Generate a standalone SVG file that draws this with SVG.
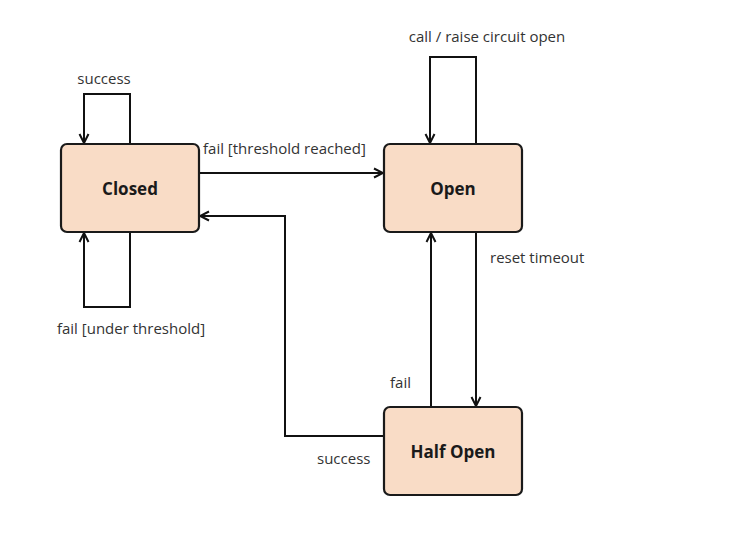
<svg xmlns="http://www.w3.org/2000/svg" width="736" height="537" viewBox="0 0 736 537">
<defs>
<style>
.node rect{fill:#f9dcc6;stroke:#1a1a1a;stroke-width:2.2}
.node text{font-family:"Open Sans","DejaVu Sans",sans-serif;font-weight:bold;font-size:17px;fill:#1a1a1a;text-anchor:middle}
.edge{fill:none;stroke:#111;stroke-width:2}
.lbl{font-family:"Open Sans","DejaVu Sans",sans-serif;font-size:15px;fill:#333}
</style>
<marker id="arr" markerWidth="12" markerHeight="12" refX="10" refY="6" orient="auto" markerUnits="userSpaceOnUse">
<path d="M1,1.5 L10,6 L1,10.5" fill="none" stroke="#111" stroke-width="2"/>
</marker>
</defs>
<rect width="736" height="537" fill="#fff"/>
<g id="connectors">
<path class="edge" d="M130,144 V94 H84 V143" marker-end="url(#arr)"/>
<path class="edge" d="M130,232 V307 H84 V233" marker-end="url(#arr)"/>
<path class="edge" d="M199,173 H383" marker-end="url(#arr)"/>
<path class="edge" d="M476,144 V57 H430 V143" marker-end="url(#arr)"/>
<path class="edge" d="M476,232 V406" marker-end="url(#arr)"/>
<path class="edge" d="M431,407 V233" marker-end="url(#arr)"/>
<path class="edge" d="M384,436 H285 V216 H200" marker-end="url(#arr)"/>
</g>
<g id="labels">
<text class="lbl" x="104" y="84" text-anchor="middle">success</text>
<text class="lbl" x="131" y="334" text-anchor="middle">fail [under threshold]</text>
<text class="lbl" x="203" y="154">fail [threshold reached]</text>
<text class="lbl" x="487" y="42" text-anchor="middle">call / raise circuit open</text>
<text class="lbl" x="490" y="263">reset timeout</text>
<text class="lbl" x="390" y="388">fail</text>
<text class="lbl" x="317" y="464">success</text>
</g>
<g id="closed" class="node">
<rect x="61" y="144" width="138" height="88" rx="6"/>
<text x="130" y="195">Closed</text>
</g>
<g id="open" class="node">
<rect x="384" y="144" width="138" height="88" rx="6"/>
<text x="453" y="195">Open</text>
</g>
<g id="halfopen" class="node">
<rect x="384" y="407" width="138" height="88" rx="6"/>
<text x="453" y="458">Half Open</text>
</g>
</svg>
